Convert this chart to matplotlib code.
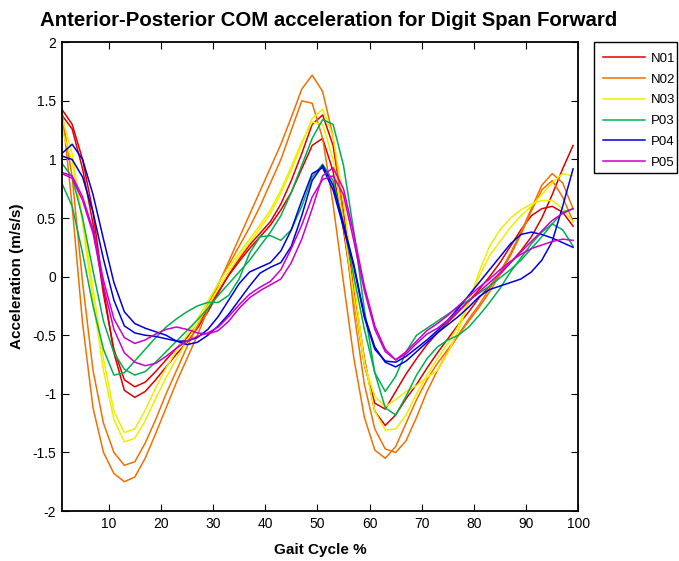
import numpy as np
import matplotlib
matplotlib.use("Agg")
import matplotlib.pyplot as plt
from matplotlib.patches import Rectangle

plt.rcParams['font.family'] = ['Liberation Sans', 'DejaVu Sans']

# gait cycle samples (every 2 %)
gait = np.arange(1, 100, 2)

subjects = ["N01", "N02", "N03", "P03", "P04", "P05"]
colors = ["#dd0000", "#f07000", "#eeee00", "#00b050", "#0000dd", "#cc00cc"]

# two trials per subject (m/s/s)
n01_a = [1.43, 1.30, 1.00, 0.55, -0.10, -0.65, -0.97, -1.03, -0.98, -0.88,
         -0.77, -0.66, -0.56, -0.44, -0.30, -0.14, 0.02, 0.15, 0.27, 0.37,
         0.47, 0.62, 0.82, 1.05, 1.30, 1.38, 1.12, 0.55, -0.10, -0.70,
         -1.15, -1.27, -1.18, -1.04, -0.92, -0.78, -0.65, -0.53, -0.41, -0.30,
         -0.18, -0.08, 0.02, 0.12, 0.22, 0.34, 0.50, 0.70, 0.92, 1.12]
n01_b = [1.38, 1.26, 0.92, 0.45, -0.15, -0.62, -0.88, -0.94, -0.90, -0.81,
         -0.71, -0.61, -0.52, -0.41, -0.28, -0.13, 0.01, 0.13, 0.24, 0.34,
         0.44, 0.57, 0.72, 0.92, 1.12, 1.18, 0.90, 0.40, -0.20, -0.75,
         -1.08, -1.13, -0.98, -0.83, -0.70, -0.58, -0.48, -0.39, -0.30, -0.21,
         -0.11, 0.00, 0.12, 0.26, 0.40, 0.52, 0.58, 0.60, 0.55, 0.43]
n02_a = [1.45, 0.60, -0.40, -1.12, -1.50, -1.68, -1.75, -1.71, -1.55, -1.34,
         -1.12, -0.90, -0.70, -0.50, -0.28, -0.07, 0.13, 0.33, 0.53, 0.73,
         0.93, 1.13, 1.36, 1.60, 1.72, 1.58, 1.20, 0.50, -0.30, -0.92,
         -1.30, -1.47, -1.50, -1.40, -1.20, -0.98, -0.80, -0.64, -0.50, -0.36,
         -0.24, -0.10, 0.04, 0.20, 0.38, 0.58, 0.78, 0.88, 0.80, 0.58]
n02_b = [1.40, 0.85, -0.05, -0.80, -1.25, -1.50, -1.61, -1.58, -1.42, -1.22,
         -1.00, -0.80, -0.60, -0.42, -0.24, -0.06, 0.10, 0.26, 0.42, 0.60,
         0.80, 1.00, 1.25, 1.50, 1.48, 1.18, 0.62, -0.05, -0.70, -1.20,
         -1.48, -1.55, -1.45, -1.25, -1.05, -0.88, -0.74, -0.62, -0.50, -0.38,
         -0.26, -0.13, 0.02, 0.18, 0.36, 0.56, 0.74, 0.82, 0.68, 0.47]
n03_a = [1.37, 1.05, 0.45, -0.20, -0.80, -1.22, -1.41, -1.38, -1.23, -1.04,
         -0.86, -0.70, -0.55, -0.40, -0.25, -0.10, 0.04, 0.17, 0.29, 0.41,
         0.54, 0.71, 0.91, 1.13, 1.35, 1.43, 1.20, 0.65, -0.05, -0.72,
         -1.15, -1.31, -1.30, -1.18, -1.00, -0.84, -0.70, -0.57, -0.42, -0.20,
         0.00, 0.18, 0.30, 0.42, 0.52, 0.60, 0.70, 0.80, 0.88, 0.86]
n03_b = [1.26, 0.98, 0.50, -0.10, -0.70, -1.15, -1.33, -1.30, -1.14, -0.95,
         -0.78, -0.63, -0.50, -0.36, -0.21, -0.06, 0.08, 0.20, 0.32, 0.44,
         0.57, 0.74, 0.94, 1.15, 1.32, 1.30, 1.00, 0.45, -0.18, -0.75,
         -1.02, -1.11, -1.05, -0.98, -0.93, -0.86, -0.80, -0.65, -0.46, -0.22,
         0.04, 0.26, 0.40, 0.50, 0.57, 0.62, 0.65, 0.65, 0.58, 0.47]
p03_a = [0.80, 0.60, 0.20, -0.25, -0.62, -0.84, -0.82, -0.72, -0.62, -0.52,
         -0.43, -0.36, -0.30, -0.25, -0.22, -0.22, -0.16, -0.02, 0.20, 0.34,
         0.35, 0.31, 0.40, 0.60, 0.85, 0.96, 0.82, 0.45, 0.00, -0.45,
         -0.82, -0.98, -0.85, -0.64, -0.50, -0.44, -0.38, -0.32, -0.26, -0.20,
         -0.14, -0.08, -0.01, 0.06, 0.14, 0.24, 0.34, 0.45, 0.55, 0.58]
p03_b = [0.97, 0.85, 0.50, 0.05, -0.38, -0.65, -0.79, -0.84, -0.81, -0.73,
         -0.64, -0.55, -0.46, -0.37, -0.27, -0.16, -0.06, 0.04, 0.14, 0.26,
         0.38, 0.52, 0.72, 0.95, 1.18, 1.34, 1.30, 0.95, 0.38, -0.28,
         -0.82, -1.12, -1.18, -1.02, -0.84, -0.70, -0.60, -0.54, -0.50, -0.43,
         -0.33, -0.22, -0.10, 0.04, 0.16, 0.28, 0.38, 0.45, 0.40, 0.26]
p04_a = [1.05, 1.13, 1.00, 0.70, 0.32, -0.05, -0.30, -0.40, -0.44, -0.47,
         -0.50, -0.55, -0.58, -0.56, -0.50, -0.42, -0.32, -0.20, -0.08, 0.03,
         0.08, 0.12, 0.26, 0.52, 0.82, 0.95, 0.78, 0.45, 0.10, -0.33,
         -0.60, -0.73, -0.77, -0.72, -0.64, -0.56, -0.48, -0.41, -0.34, -0.26,
         -0.17, -0.11, -0.08, -0.05, -0.02, 0.04, 0.14, 0.30, 0.60, 0.92]
p04_b = [1.03, 1.00, 0.85, 0.55, 0.15, -0.20, -0.42, -0.48, -0.50, -0.51,
         -0.53, -0.55, -0.55, -0.52, -0.45, -0.34, -0.20, -0.06, 0.04, 0.08,
         0.12, 0.22, 0.40, 0.65, 0.88, 0.93, 0.74, 0.42, 0.08, -0.35,
         -0.62, -0.72, -0.73, -0.68, -0.61, -0.54, -0.46, -0.37, -0.27, -0.16,
         -0.05, 0.06, 0.17, 0.28, 0.36, 0.38, 0.36, 0.33, 0.29, 0.25]
p05_a = [0.89, 0.86, 0.68, 0.40, -0.03, -0.36, -0.52, -0.57, -0.54, -0.49,
         -0.45, -0.43, -0.45, -0.48, -0.49, -0.46, -0.38, -0.27, -0.18, -0.12,
         -0.07, -0.02, 0.12, 0.32, 0.58, 0.86, 0.93, 0.75, 0.36, -0.08,
         -0.42, -0.62, -0.71, -0.64, -0.55, -0.46, -0.40, -0.33, -0.25, -0.17,
         -0.09, -0.02, 0.06, 0.13, 0.19, 0.24, 0.27, 0.30, 0.32, 0.31]
p05_b = [0.88, 0.84, 0.65, 0.37, -0.08, -0.45, -0.65, -0.73, -0.76, -0.74,
         -0.68, -0.61, -0.55, -0.51, -0.48, -0.43, -0.34, -0.24, -0.15, -0.09,
         -0.04, 0.06, 0.24, 0.44, 0.68, 0.83, 0.86, 0.70, 0.30, -0.12,
         -0.45, -0.64, -0.71, -0.66, -0.57, -0.49, -0.44, -0.37, -0.29, -0.21,
         -0.13, -0.05, 0.03, 0.12, 0.21, 0.30, 0.39, 0.48, 0.54, 0.58]

trials = [(n01_a, n01_b), (n02_a, n02_b), (n03_a, n03_b),
          (p03_a, p03_b), (p04_a, p04_b), (p05_a, p05_b)]

W, H = 679, 561
fig = plt.figure(figsize=(W / 100, H / 100), dpi=100)
ax = fig.add_axes([0.0909, 0.0891, 0.7608, 0.8355])

for name, col, (a, b) in zip(subjects, colors, trials):
    ax.plot(gait, a, color=col, lw=1.1, label=name)
    ax.plot(gait, b, color=col, lw=1.1)

ax.set_xlim(1, 100)
ax.set_ylim(-2, 2)
ax.set_xticks(np.arange(10, 101, 10))
ax.set_yticks(np.arange(-2, 2.01, 0.5))
ax.set_yticklabels(["-2", "-1.5", "-1", "-0.5", "0", "0.5", "1", "1.5", "2"])
ax.tick_params(direction="in", top=True, right=True, length=5, width=0.8,
               labelsize=10, pad=4)
for s in ax.spines.values():
    s.set_linewidth(1.3)

ax.set_xlabel("Gait Cycle %", fontsize=11, fontweight="bold", labelpad=9)
ax.set_ylabel("Acceleration (m/s/s)", fontsize=11, fontweight="bold", labelpad=6)
fig.text(40 / W, 1 - 21 / H,
         "Anterior-Posterior COM acceleration for Digit Span Forward",
         ha="left", va="center", fontsize=14.7, fontweight="bold")

# legend box drawn separately so its frame matches the original exactly
fig.patches.append(Rectangle((594 / W, 1 - 173 / H), 83 / W, 131 / H,
                             transform=fig.transFigure, fill=False,
                             edgecolor="black", lw=1.0))
fig.legend(loc="upper left", bbox_to_anchor=(603 / W, 1 - 52.5 / H),
           fontsize=9.5, frameon=False, handlelength=3.2, labelspacing=0.65,
           borderaxespad=0, borderpad=0, handletextpad=0.45)

fig.savefig("out.png", dpi=100)
